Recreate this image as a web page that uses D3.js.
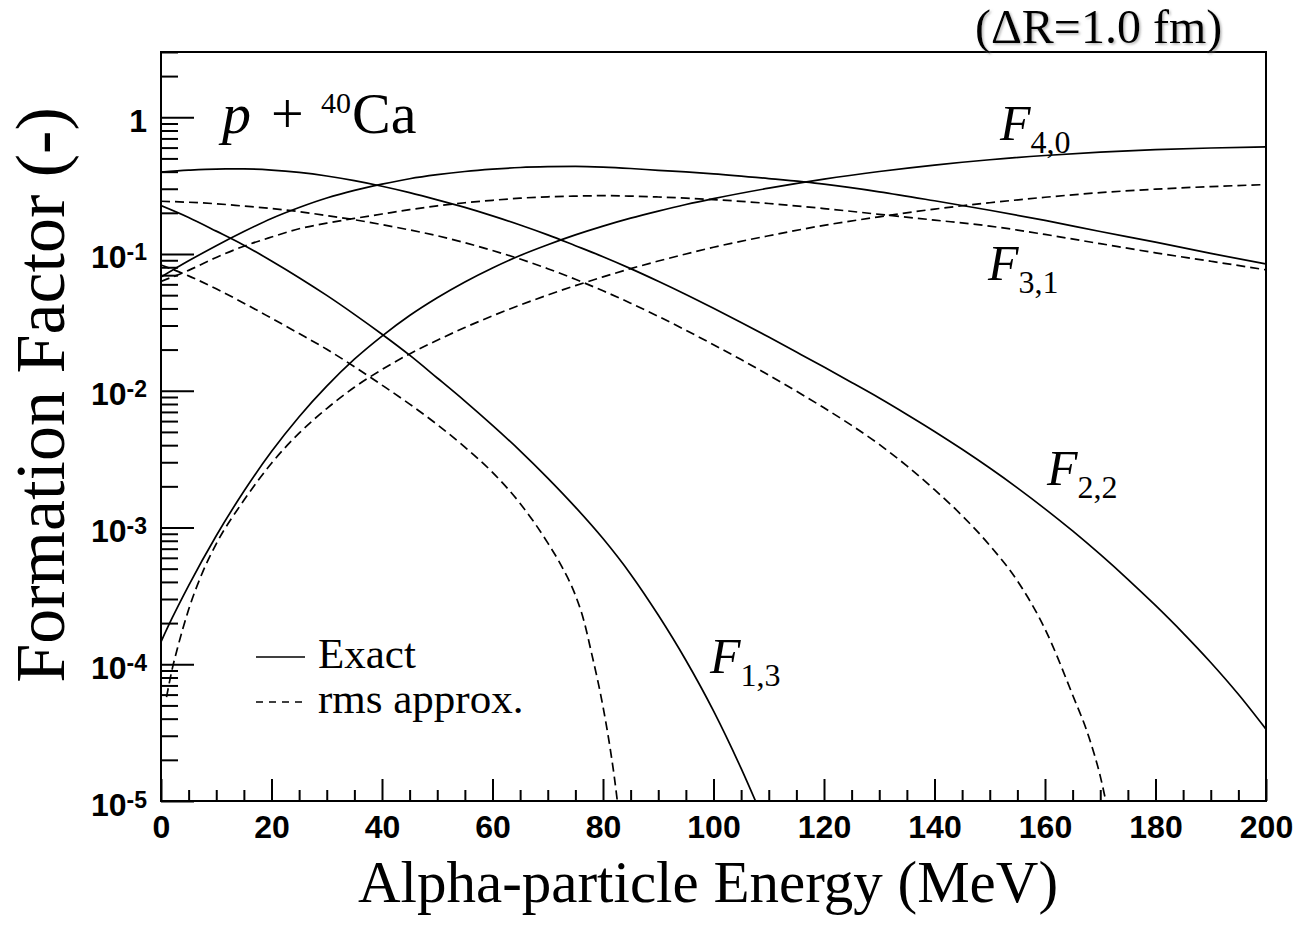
<!DOCTYPE html>
<html>
<head>
<meta charset="utf-8">
<script src="https://cdn.jsdelivr.net/npm/d3@7"></script>
<style>
  body { margin: 0; background: #fff; }
  svg { display: block; }
</style>
</head>
<body>
<svg id="chart" width="1299" height="931"></svg>
<script>
// ---- Formation factors F_{n,m}(E) for p + 40Ca, exact and rms approximation ----
// Alpha-particle energy in MeV, formation factor (dimensionless).

const energyF40Exact = [0, 2, 5, 10, 15, 20, 25, 30, 35, 40, 45, 50, 55, 60, 65, 70, 75, 80, 85, 90, 95, 100, 110, 120, 130, 140, 150, 160, 170, 180, 190, 200];
const f40Exact = [1.46e-4, 2.17e-4, 3.76e-4, 8.71e-4, 1.84e-3, 3.59e-3, 6.46e-3, 1.08e-2, 1.70e-2, 2.51e-2, 3.55e-2, 4.79e-2, 6.25e-2, 7.91e-2, 9.76e-2, 0.117, 0.138, 0.160, 0.183, 0.206, 0.230, 0.254, 0.303, 0.353, 0.401, 0.447, 0.489, 0.525, 0.556, 0.579, 0.596, 0.607];

const energyF40Rms = [1, 2, 3, 5, 7.5, 10, 15, 20, 25, 30, 35, 40, 45, 50, 55, 60, 65, 70, 75, 80, 85, 90, 95, 100, 110, 120, 130, 140, 150, 160, 170, 180, 190, 200];
const f40Rms = [5.75e-5, 9.12e-5, 1.32e-4, 2.51e-4, 4.68e-4, 7.59e-4, 1.58e-3, 2.95e-3, 4.90e-3, 7.41e-3, 1.06e-2, 1.43e-2, 1.86e-2, 2.34e-2, 2.90e-2, 3.53e-2, 4.23e-2, 5.01e-2, 5.87e-2, 6.80e-2, 7.81e-2, 8.88e-2, 0.100, 0.112, 0.136, 0.162, 0.187, 0.213, 0.237, 0.260, 0.281, 0.298, 0.311, 0.322];

const energyF31 = [0, 5, 10, 15, 20, 25, 30, 35, 40, 45, 50, 55, 60, 65, 70, 75, 80, 85, 90, 95, 100, 110, 120, 130, 140, 150, 160, 170, 180, 190, 200];
const f31Exact = [0.0678, 0.0891, 0.115, 0.146, 0.182, 0.219, 0.257, 0.292, 0.324, 0.355, 0.380, 0.401, 0.417, 0.429, 0.435, 0.437, 0.432, 0.422, 0.409, 0.398, 0.386, 0.356, 0.324, 0.285, 0.245, 0.209, 0.176, 0.146, 0.122, 0.101, 0.0845];
const f31Rms = [0.0631, 0.0759, 0.0944, 0.114, 0.133, 0.153, 0.168, 0.182, 0.196, 0.211, 0.225, 0.237, 0.247, 0.256, 0.262, 0.265, 0.267, 0.265, 0.261, 0.256, 0.250, 0.234, 0.215, 0.195, 0.177, 0.160, 0.139, 0.119, 0.102, 0.0885, 0.0766];

const energyF22Exact = [0, 5, 10, 15, 20, 25, 30, 35, 40, 45, 50, 55, 60, 65, 70, 75, 80, 85, 90, 95, 100, 105, 110, 115, 120, 125, 130, 135, 140, 145, 150, 155, 160, 165, 170, 175, 180, 185, 190, 195, 200];
const f22Exact = [0.397, 0.410, 0.418, 0.419, 0.411, 0.395, 0.372, 0.344, 0.313, 0.281, 0.249, 0.219, 0.190, 0.163, 0.138, 0.115, 0.0955, 0.0782, 0.0632, 0.0506, 0.0401, 0.0316, 0.0247, 0.0192, 0.0149, 0.0115, 0.00885, 0.00671, 0.00504, 0.00373, 0.00272, 0.00195, 0.00137, 9.44e-4, 6.35e-4, 4.18e-4, 2.69e-4, 1.69e-4, 1.03e-4, 6.03e-5, 3.35e-5];

const energyF22Rms = [0, 5, 10, 15, 20, 25, 30, 35, 40, 45, 50, 55, 60, 65, 70, 75, 80, 85, 90, 95, 100, 105, 110, 115, 120, 125, 130, 135, 140, 145, 150, 155, 160, 165, 168, 170, 171.5];
const f22Rms = [0.243, 0.239, 0.233, 0.224, 0.215, 0.204, 0.191, 0.178, 0.164, 0.150, 0.136, 0.121, 0.106, 0.0919, 0.0781, 0.0653, 0.0538, 0.0437, 0.0350, 0.0277, 0.0217, 0.0169, 0.0130, 0.00993, 0.00750, 0.00558, 0.00405, 0.00282, 0.00189, 0.00122, 7.40e-4, 4.07e-4, 1.81e-4, 5.96e-5, 2.89e-5, 1.52e-5, 8.03e-6];

const energyF13Exact = [0, 5, 10, 15, 20, 25, 30, 35, 40, 45, 50, 55, 60, 65, 70, 75, 80, 85, 90, 95, 100, 105, 108];
const f13Exact = [0.226, 0.185, 0.147, 0.116, 0.0889, 0.0671, 0.0498, 0.0362, 0.0259, 0.0182, 0.0124, 0.00840, 0.00558, 0.00364, 0.00230, 0.00141, 8.30e-4, 4.56e-4, 2.29e-4, 1.07e-4, 4.56e-5, 1.73e-5, 9.18e-6];

const energyF13Rms = [0, 5, 10, 15, 20, 25, 30, 35, 40, 45, 50, 55, 60, 65, 70, 72.5, 75, 76.5, 78, 79, 80, 81, 82, 83];
const f13Rms = [0.0832, 0.0692, 0.0556, 0.0437, 0.0339, 0.0262, 0.0201, 0.0150, 0.0110, 0.00799, 0.00566, 0.00387, 0.00253, 0.00150, 7.72e-4, 5.22e-4, 3.20e-4, 2.11e-4, 1.17e-4, 7.76e-5, 4.90e-5, 2.88e-5, 1.55e-5, 7.24e-6];

// Axis ticks and labels
const xMajorTicks = [0, 20, 40, 60, 80, 100, 120, 140, 160, 180, 200];
const xMinorTicks = d3.range(0, 201, 5).filter(v => v % 20 !== 0);
const yDecadeExponents = [-5, -4, -3, -2, -1, 0];

// Curve labels
const curveLabels = [
  { sub: "4,0", x: 1000, y: 140 },
  { sub: "3,1", x: 988, y: 280 },
  { sub: "2,2", x: 1047, y: 485 },
  { sub: "1,3", x: 710, y: 673 }
];

// ---- drawing ----
const svg = d3.select("#chart");
const frame = { left: 161, right: 1266, top: 52, bottom: 801 };
const serif = "'Liberation Serif', 'Times New Roman', Times, serif";
const sans = "'Liberation Sans', Arial, Helvetica, sans-serif";

svg.append("rect").attr("width", 1299).attr("height", 931).attr("fill", "#fff");

const x = d3.scaleLinear().domain([0, 200]).range([frame.left, frame.right]);
const y = d3.scaleLog().domain([1e-5, 3]).range([frame.bottom, frame.top]);

const defs = svg.append("defs");
defs.append("clipPath").attr("id", "plot-clip")
  .append("rect")
  .attr("x", frame.left).attr("y", frame.top)
  .attr("width", frame.right - frame.left).attr("height", frame.bottom - frame.top);

const shadow = defs.append("filter").attr("id", "soft-shadow")
  .attr("x", "-10%").attr("y", "-30%").attr("width", "130%").attr("height", "160%");
shadow.append("feDropShadow")
  .attr("dx", 1.5).attr("dy", 1.5).attr("stdDeviation", 1.2)
  .attr("flood-color", "#777").attr("flood-opacity", 0.55);

// Series
const series = [
  { e: energyF40Exact, f: f40Exact, dashed: false },
  { e: energyF40Rms,   f: f40Rms,   dashed: true },
  { e: energyF31,      f: f31Exact, dashed: false },
  { e: energyF31,      f: f31Rms,   dashed: true },
  { e: energyF22Exact, f: f22Exact, dashed: false },
  { e: energyF22Rms,   f: f22Rms,   dashed: true },
  { e: energyF13Exact, f: f13Exact, dashed: false },
  { e: energyF13Rms,   f: f13Rms,   dashed: true }
];

const line = d3.line()
  .x(d => x(d[0]))
  .y(d => y(d[1]))
  .curve(d3.curveMonotoneX);

svg.append("g").attr("clip-path", "url(#plot-clip)")
  .selectAll("path")
  .data(series)
  .join("path")
  .attr("d", s => line(s.e.map((e, i) => [e, s.f[i]])))
  .attr("fill", "none")
  .attr("stroke", "#000")
  .attr("stroke-width", 1.7)
  .attr("stroke-dasharray", s => s.dashed ? "9,5" : null);

// X axis (ticks pointing into the frame)
const xAxisMajor = d3.axisBottom(x)
  .tickValues(xMajorTicks)
  .tickSizeInner(-22).tickSizeOuter(0)
  .tickPadding(14)
  .tickFormat(d3.format("d"));
const gx = svg.append("g").attr("transform", `translate(0,${frame.bottom})`).call(xAxisMajor);
gx.select(".domain").remove();
gx.selectAll(".tick line").attr("stroke", "#000").attr("stroke-width", 2);
gx.selectAll(".tick text")
  .attr("font-family", sans).attr("font-weight", "bold").attr("font-size", 32).attr("fill", "#000");

const gxMinor = svg.append("g").attr("transform", `translate(0,${frame.bottom})`)
  .call(d3.axisBottom(x).tickValues(xMinorTicks).tickSizeInner(-11).tickSizeOuter(0).tickFormat(""));
gxMinor.select(".domain").remove();
gxMinor.selectAll(".tick line").attr("stroke", "#000").attr("stroke-width", 2);

// Y axis (log, decades labelled as powers of ten)
const yMajor = yDecadeExponents.map(p => Math.pow(10, p));
const yMinor = [];
yMajor.forEach(d => { for (let k = 2; k <= 9; k++) { if (k * d <= 3) yMinor.push(k * d); } });

const gy = svg.append("g").attr("transform", `translate(${frame.left},0)`)
  .call(d3.axisLeft(y).tickValues(yMajor).tickSizeInner(-33).tickSizeOuter(0).tickFormat(""));
gy.select(".domain").remove();
gy.selectAll(".tick line").attr("stroke", "#000").attr("stroke-width", 2);
gy.selectAll(".tick").each(function (d, i) {
  const p = yDecadeExponents[i];
  const t = d3.select(this).append("text")
    .attr("x", -14).attr("y", 14)
    .attr("text-anchor", "end")
    .attr("font-family", sans).attr("font-weight", "bold").attr("font-size", 32)
    .attr("fill", "#000");
  if (p === 0) {
    t.text("1");
  } else {
    t.append("tspan").text("10");
    t.append("tspan").attr("font-size", 23).attr("dy", -8).text(String(p));
  }
});

const gyMinor = svg.append("g").attr("transform", `translate(${frame.left},0)`)
  .call(d3.axisLeft(y).tickValues(yMinor).tickSizeInner(-17).tickSizeOuter(0).tickFormat(""));
gyMinor.select(".domain").remove();
gyMinor.selectAll(".tick line").attr("stroke", "#000").attr("stroke-width", 2);

// Frame
svg.append("rect")
  .attr("x", frame.left).attr("y", frame.top)
  .attr("width", frame.right - frame.left).attr("height", frame.bottom - frame.top)
  .attr("fill", "none").attr("stroke", "#000").attr("stroke-width", 2);

// Axis titles
svg.append("text")
  .attr("x", 708).attr("y", 902)
  .attr("text-anchor", "middle")
  .attr("font-family", serif).attr("font-size", 59).attr("fill", "#000")
  .text("Alpha-particle Energy (MeV)");

svg.append("text")
  .attr("transform", "translate(64,395) rotate(-90)")
  .attr("text-anchor", "middle")
  .attr("font-family", serif).attr("font-size", 70).attr("fill", "#000")
  .text("Formation Factor (-)");

// Reaction label
const reaction = svg.append("text")
  .attr("y", 133)
  .attr("font-family", serif).attr("font-size", 58).attr("fill", "#000");
reaction.append("tspan").attr("x", 222).attr("font-style", "italic").text("p");
reaction.append("tspan").attr("x", 271).text("+");
reaction.append("tspan").attr("x", 321).attr("dy", -20).attr("font-size", 30).text("40");
reaction.append("tspan").attr("x", 352).attr("dy", 20).text("Ca");

// Width of the shell
svg.append("text")
  .attr("x", 975).attr("y", 43)
  .attr("font-family", serif).attr("font-size", 48).attr("fill", "#000")
  .attr("filter", "url(#soft-shadow)")
  .text("(\u0394R=1.0 fm)");

// Curve labels F_{n,m}
curveLabels.forEach(l => {
  const t = svg.append("text")
    .attr("x", l.x).attr("y", l.y)
    .attr("font-family", serif).attr("font-size", 50).attr("fill", "#000");
  t.append("tspan").attr("font-style", "italic").text("F");
  t.append("tspan").attr("font-size", 32).attr("dy", 13).text(l.sub);
});

// Legend
const legendItems = [
  { label: "Exact", dashed: false, y: 657 },
  { label: "rms approx.", dashed: true, y: 702 }
];
const legend = svg.append("g");
legendItems.forEach(it => {
  legend.append("line")
    .attr("x1", 256).attr("x2", 305)
    .attr("y1", it.y).attr("y2", it.y)
    .attr("stroke", "#000").attr("stroke-width", 1.5)
    .attr("stroke-dasharray", it.dashed ? "7,6" : null);
  legend.append("text")
    .attr("x", 318).attr("y", it.y + 11)
    .attr("font-family", serif).attr("font-size", 43).attr("fill", "#000")
    .text(it.label);
});
</script>
</body>
</html>
